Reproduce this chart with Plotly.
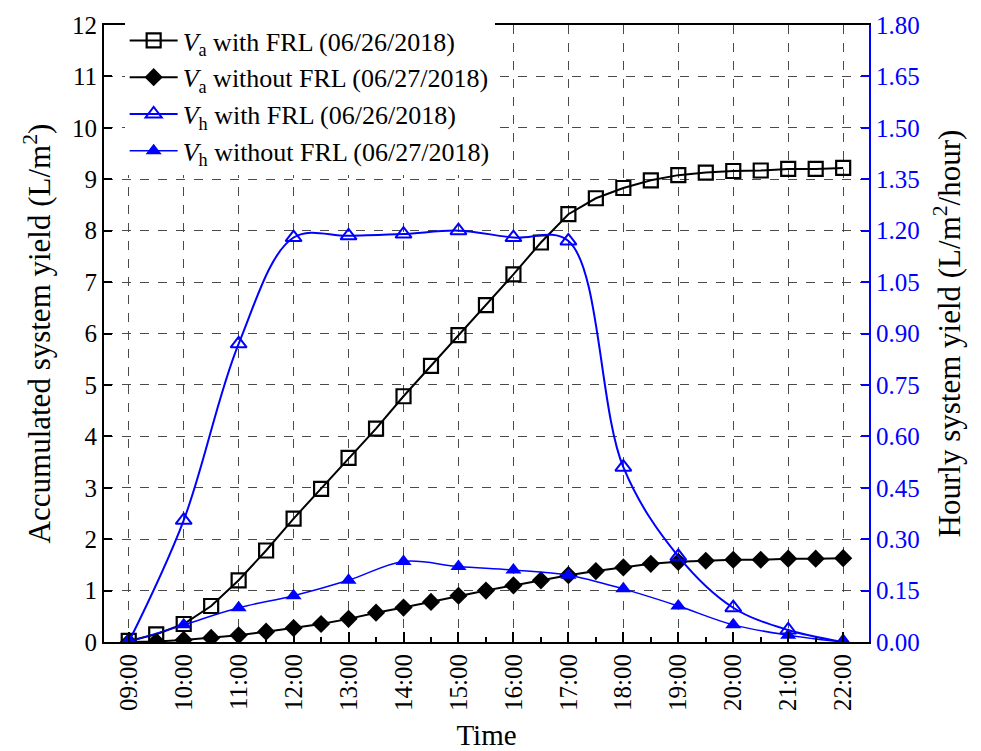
import plotly.graph_objects as go

# Time of day in hours
t_half = [9 + 0.5 * i for i in range(27)]   # 09:00 ... 22:00 every 30 min
t_hour = list(range(9, 23))                 # 09:00 ... 22:00 every hour
tick_text = ["%02d:00" % h for h in t_hour]

# Accumulated system yield (L/m2)
va_with = [0.02, 0.15, 0.35, 0.70, 1.20, 1.78, 2.40, 2.98, 3.58, 4.15, 4.78, 5.37, 5.97,
           6.55, 7.15, 7.77, 8.32, 8.63, 8.83, 8.98, 9.08, 9.13, 9.16, 9.17, 9.20, 9.20, 9.22]
va_without = [0.00, 0.01, 0.04, 0.08, 0.13, 0.20, 0.27, 0.35, 0.45, 0.57, 0.67, 0.78, 0.90,
              1.00, 1.10, 1.20, 1.30, 1.38, 1.45, 1.52, 1.56, 1.58, 1.60, 1.60, 1.62, 1.62, 1.63]

# Hourly system yield (L/m2/hour)
vh_with = [0.00, 0.355, 0.87, 1.18, 1.185, 1.19, 1.20, 1.18, 1.17, 0.51, 0.25, 0.10, 0.035, 0.00]
vh_without = [0.00, 0.05, 0.10, 0.135, 0.18, 0.235, 0.22, 0.21, 0.195, 0.155, 0.105, 0.05, 0.02, 0.00]

FONT = "Liberation Serif"
BLUE = "#0000ff"
GRID = "#4a4a4a"

fig = go.Figure()

fig.add_trace(go.Scatter(
    x=t_half, y=va_with, mode="lines+markers",
    name="<i>V</i><sub>a</sub> with FRL (06/26/2018)",
    line=dict(color="black", width=2),
    marker=dict(symbol="square-open", size=14, color="black", line=dict(width=2.2)),
))
fig.add_trace(go.Scatter(
    x=t_half, y=va_without, mode="lines+markers",
    name="<i>V</i><sub>a</sub> without FRL (06/27/2018)",
    line=dict(color="black", width=2),
    marker=dict(symbol="diamond", size=14, color="black"),
))
fig.add_trace(go.Scatter(
    x=t_hour, y=vh_with, mode="lines+markers", yaxis="y2",
    name="<i>V</i><sub>h</sub> with FRL (06/26/2018)",
    line=dict(color=BLUE, width=2, shape="spline", smoothing=1.0),
    marker=dict(symbol="triangle-up-open", size=14, color=BLUE, line=dict(width=2)),
))
fig.add_trace(go.Scatter(
    x=t_hour, y=vh_without, mode="lines+markers", yaxis="y2",
    name="<i>V</i><sub>h</sub> without FRL (06/27/2018)",
    line=dict(color=BLUE, width=1.5, shape="spline", smoothing=1.0),
    marker=dict(symbol="triangle-up", size=14, color=BLUE),
))

fig.update_layout(
    width=981, height=751,
    margin=dict(l=104, r=112, t=25, b=109),
    paper_bgcolor="white", plot_bgcolor="white",
    font=dict(family=FONT, size=24, color="black"),
    showlegend=True,
    legend=dict(
        x=0.027, y=1.013, xanchor="left", yanchor="top",
        bgcolor="white", borderwidth=0,
        font=dict(family=FONT, size=26, color="black"),
        tracegroupgap=0, itemwidth=48,
    ),
    xaxis=dict(
        range=[8.55, 22.47], automargin=False,
        tickmode="array", tickvals=t_hour, ticktext=tick_text,
        tickangle=-90,
        ticks="inside", ticklen=10, tickwidth=2, tickcolor="black",
        minor=dict(dtick=0.5, tick0=9, ticks="inside", ticklen=5, tickwidth=2,
                   tickcolor="black", showgrid=False),
        showline=True, linecolor="black", linewidth=2, mirror=True,
        showgrid=True, gridcolor=GRID, griddash="dash", gridwidth=1,
        zeroline=False,
        tickfont=dict(family=FONT, size=25),
        title=dict(text="Time", font=dict(family=FONT, size=29), standoff=16),
    ),
    yaxis=dict(
        range=[0, 12], dtick=1, tick0=0, automargin=False,
        ticks="inside", ticklen=8, tickwidth=2, tickcolor="black",
        showline=True, linecolor="black", linewidth=2,
        showgrid=True, gridcolor=GRID, griddash="dash", gridwidth=1,
        zeroline=False,
        tickfont=dict(family=FONT, size=25),
        title=dict(text="Accumulated system yield (L/m<sup>2</sup>)",
                   font=dict(family=FONT, size=31), standoff=12),
    ),
    yaxis2=dict(
        range=[0, 1.8], dtick=0.15, tick0=0, tickformat=".2f", automargin=False,
        overlaying="y", side="right",
        ticks="inside", ticklen=8, tickwidth=2, tickcolor=BLUE,
        showline=True, linecolor=BLUE, linewidth=2,
        showgrid=False, zeroline=False,
        tickfont=dict(family=FONT, size=25, color=BLUE),
        title=dict(text="Hourly system yield (L/m<sup>2</sup>/hour)",
                   font=dict(family=FONT, size=31, color="black"), standoff=20),
    ),
)

fig.write_html("out.html")
